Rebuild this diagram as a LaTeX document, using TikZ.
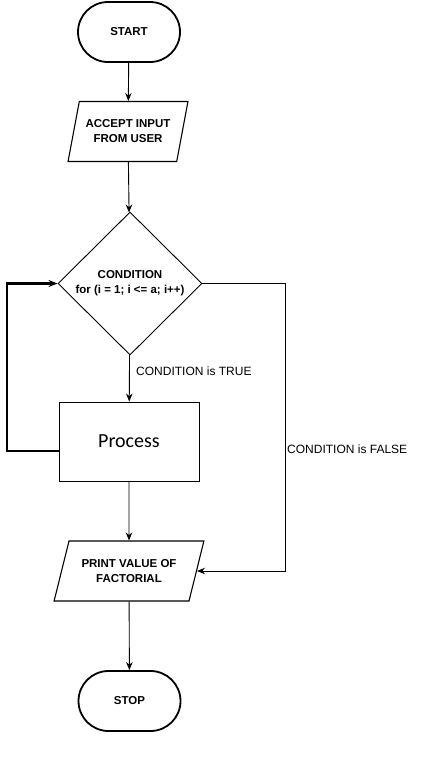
\documentclass[tikz,border=0pt]{standalone}
\usepackage{fontspec}
\setmainfont{Liberation Sans}
\newfontfamily\procfont{Carlito}
\usetikzlibrary{shapes.geometric,shapes.misc,arrows.meta}
\begin{document}
\begin{tikzpicture}[x=1pt,y=-1pt,
  term/.style={rounded rectangle, draw, line width=1.8pt, minimum width=102pt, minimum height=60pt, inner sep=0pt, font=\fontsize{11.5}{13}\selectfont\bfseries},
  io/.style={trapezium, draw, line width=1.1pt, trapezium left angle=67, trapezium right angle=113, trapezium stretches=true, minimum height=60pt, inner sep=0pt, align=center, font=\fontsize{11.5}{15}\selectfont\bfseries},
  dec/.style={diamond, draw, line width=0.9pt, minimum width=144pt, minimum height=143pt, inner sep=0pt, align=center, font=\fontsize{11.5}{15}\selectfont\bfseries},
  procbox/.style={rectangle, draw, line width=0.9pt, minimum width=140pt, minimum height=79pt, inner sep=0pt, font=\procfont\fontsize{20}{24}\selectfont},
  lbl/.style={anchor=west, inner sep=0pt, font=\fontsize{12}{14}\selectfont},
  conn/.style={draw, line width=0.9pt, -{Stealth[length=8pt,width=6.5pt]}},
  loopconn/.style={draw, line width=2.2pt, -{Stealth[length=9pt,width=7pt]}}
]
\useasboundingbox[fill=white] (0,0) rectangle (441,763);
\node[term] (start) at (129,32) {START};
\node[io, minimum width=120pt] (inp) at (128,131.5) {ACCEPT INPUT\\FROM USER};
\node[dec] (dia) at (130,283.5) {CONDITION\\for (i = 1; i <= a; i++)};
\node[procbox] (proc) at (129,441.5) {Process};
\node[io, trapezium left angle=63, trapezium right angle=117, minimum width=150pt] (prt) at (129,571) {PRINT VALUE OF\\FACTORIAL};
\node[term] (stop) at (129.5,701) {STOP};
\node[lbl] (ltrue) at (136,371) {CONDITION is TRUE};
\node[lbl] (lfalse) at (287,449) {CONDITION is FALSE};
\coordinate (fr) at (285,283.5);
\coordinate (lb) at (7,451);
\draw[conn] (start) -- (inp);
\draw[conn] (inp) -- (dia);
\draw[conn] (dia) -- (proc);
\draw[conn] (proc) -- (prt);
\draw[conn] (prt) -- (stop);
\draw[conn] (dia.east) -- (fr) |- (prt.right side);
\draw[loopconn] (proc.west |- lb) -- (lb) |- (dia.west);
\end{tikzpicture}
\end{document}
